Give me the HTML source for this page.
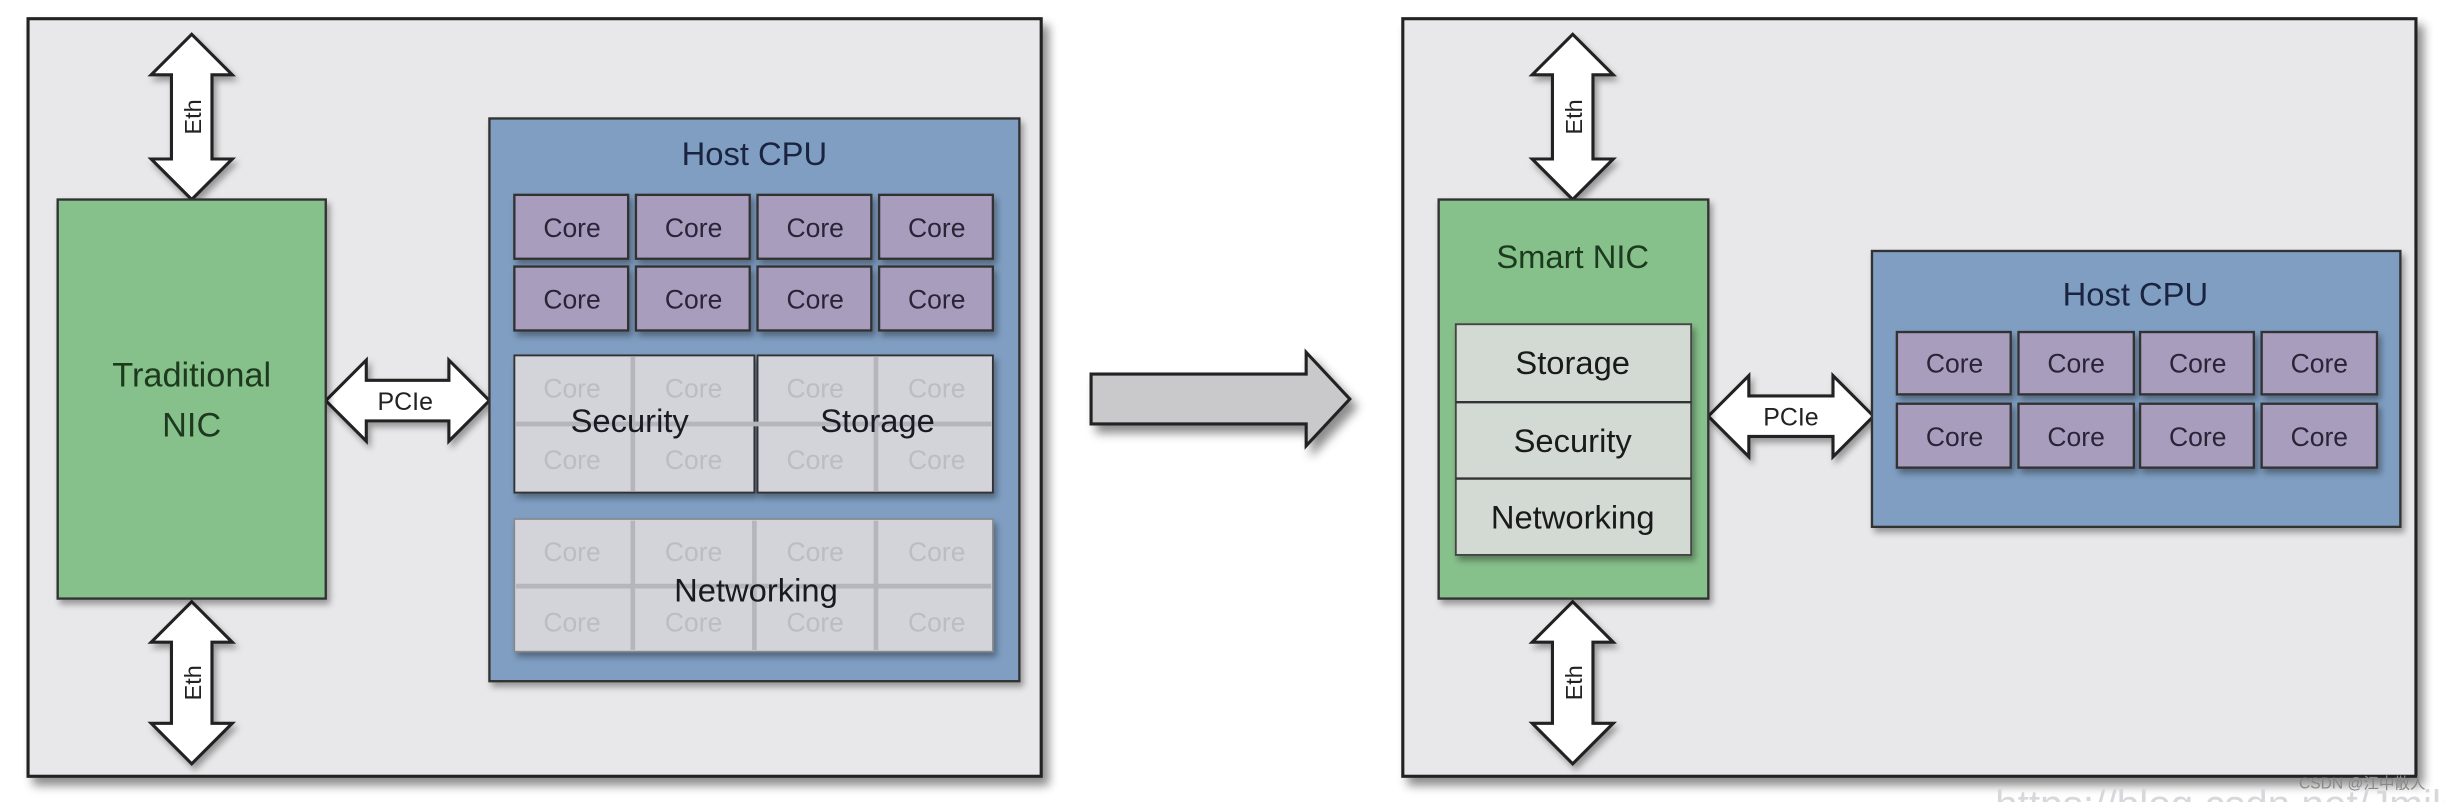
<!DOCTYPE html>
<html><head><meta charset="utf-8"><style>
html,body{margin:0;padding:0;background:#fff;width:2444px;height:802px;overflow:hidden}
svg{display:block}
text{font-family:"Liberation Sans","Noto Sans CJK SC",sans-serif}
</style></head><body>
<svg width="2444" height="802" viewBox="0 0 1568 514.5" preserveAspectRatio="none" xmlns="http://www.w3.org/2000/svg">
<defs>
<filter id="sh" x="-10%" y="-10%" width="130%" height="130%"><feDropShadow dx="4" dy="5" stdDeviation="3" flood-color="#000" flood-opacity="0.45"/></filter>
<filter id="sh2" x="-10%" y="-10%" width="130%" height="130%"><feDropShadow dx="2" dy="3" stdDeviation="2" flood-color="#000" flood-opacity="0.35"/></filter>
</defs>
<rect width="1568" height="514.5" fill="#fff"/>
<!-- Left panel -->
<rect x="18" y="12" width="650" height="486" fill="#e8e8ea" stroke="#222" stroke-width="2" filter="url(#sh)"/>
<!-- Eth arrows left -->
<g fill="#fff" stroke="#222" stroke-width="2" filter="url(#sh2)">
<path d="M123 22 L149 48 L136 48 L136 102 L149 102 L123 128 L97 102 L110 102 L110 48 L97 48 Z"/>
<path d="M123 386 L149 412 L136 412 L136 464 L149 464 L123 490 L97 464 L110 464 L110 412 L97 412 Z"/>
<path d="M209 257 L235 231 L235 244 L288 244 L288 231 L314 257 L288 283 L288 270 L235 270 L235 283 Z"/>
</g>
<text x="129" y="75" font-size="15" fill="#222" text-anchor="middle" transform="rotate(-90 129 75)">Eth</text>
<text x="129" y="438" font-size="15" fill="#222" text-anchor="middle" transform="rotate(-90 129 438)">Eth</text>
<text x="260" y="263" font-size="16" fill="#222" text-anchor="middle">PCIe</text>
<!-- Traditional NIC -->
<rect x="37" y="128" width="172" height="256" fill="#86c08a" stroke="#333" stroke-width="1.5" filter="url(#sh2)"/>
<text x="123" y="248" font-size="22" fill="#1d3a1f" text-anchor="middle">Traditional</text>
<text x="123" y="280" font-size="22" fill="#1d3a1f" text-anchor="middle">NIC</text>
<!-- Host CPU left -->
<rect x="314" y="76" width="340" height="361" fill="#7f9ec2" stroke="#333" stroke-width="1.5" filter="url(#sh2)"/>
<text x="484" y="106" font-size="21" fill="#1a2440" text-anchor="middle">Host CPU</text>
<g fill="#a99dbd" stroke="#333" stroke-width="1.5" filter="url(#sh2)">
<rect x="330" y="125" width="73" height="41"/><rect x="408" y="125" width="73" height="41"/><rect x="486" y="125" width="73" height="41"/><rect x="564" y="125" width="73" height="41"/>
<rect x="330" y="171" width="73" height="41"/><rect x="408" y="171" width="73" height="41"/><rect x="486" y="171" width="73" height="41"/><rect x="564" y="171" width="73" height="41"/>
</g>
<g font-size="17" fill="#2a2438" text-anchor="middle">
<text x="367" y="152">Core</text><text x="445" y="152">Core</text><text x="523" y="152">Core</text><text x="601" y="152">Core</text>
<text x="367" y="198">Core</text><text x="445" y="198">Core</text><text x="523" y="198">Core</text><text x="601" y="198">Core</text>
</g>
<!-- Security/Storage -->
<g filter="url(#sh2)">
<rect x="330" y="228" width="154" height="88" fill="#d3d3da" stroke="#333" stroke-width="1.2"/>
<rect x="486" y="228" width="151" height="88" fill="#d3d3da" stroke="#333" stroke-width="1.2"/>
<rect x="330" y="333" width="307" height="85" fill="#d3d3da" stroke="#888" stroke-width="1"/>
</g>
<g stroke="#b5b5bc" stroke-width="3">
<line x1="406" y1="229" x2="406" y2="315"/><line x1="562" y1="229" x2="562" y2="315"/>
<line x1="331" y1="272" x2="636" y2="272"/>
<line x1="406" y1="334" x2="406" y2="417"/><line x1="484" y1="334" x2="484" y2="417"/><line x1="562" y1="334" x2="562" y2="417"/>
<line x1="331" y1="376" x2="636" y2="376"/>
</g>
<g font-size="17" fill="#bcbcc2" text-anchor="middle">
<text x="367" y="255">Core</text><text x="445" y="255">Core</text><text x="523" y="255">Core</text><text x="601" y="255">Core</text>
<text x="367" y="301">Core</text><text x="445" y="301">Core</text><text x="523" y="301">Core</text><text x="601" y="301">Core</text>
<text x="367" y="360">Core</text><text x="445" y="360">Core</text><text x="523" y="360">Core</text><text x="601" y="360">Core</text>
<text x="367" y="405">Core</text><text x="445" y="405">Core</text><text x="523" y="405">Core</text><text x="601" y="405">Core</text>
</g>
<g font-size="21" fill="#1a1a22" text-anchor="middle">
<text x="404" y="277">Security</text><text x="563" y="277">Storage</text><text x="485" y="386">Networking</text>
</g>
<!-- Big arrow -->
<path d="M700 240 L838 240 L838 226 L866 256 L838 286 L838 272 L700 272 Z" fill="#c9c9cb" stroke="#222" stroke-width="2" filter="url(#sh)"/>
<!-- Right panel -->
<rect x="900" y="12" width="650" height="486" fill="#e8e8ea" stroke="#222" stroke-width="2" filter="url(#sh)"/>
<g fill="#fff" stroke="#222" stroke-width="2" filter="url(#sh2)">
<path d="M1009 22 L1035 48 L1022 48 L1022 102 L1035 102 L1009 128 L983 102 L996 102 L996 48 L983 48 Z"/>
<path d="M1009 386 L1035 412 L1022 412 L1022 464 L1035 464 L1009 490 L983 464 L996 464 L996 412 L983 412 Z"/>
<path d="M1096 267 L1122 241 L1122 254 L1176 254 L1176 241 L1202 267 L1176 293 L1176 280 L1122 280 L1122 293 Z"/>
</g>
<text x="1015" y="75" font-size="15" fill="#222" text-anchor="middle" transform="rotate(-90 1015 75)">Eth</text>
<text x="1015" y="438" font-size="15" fill="#222" text-anchor="middle" transform="rotate(-90 1015 438)">Eth</text>
<text x="1149" y="273" font-size="16" fill="#222" text-anchor="middle">PCIe</text>
<rect x="923" y="128" width="173" height="256" fill="#86c08a" stroke="#333" stroke-width="1.5" filter="url(#sh2)"/>
<text x="1009" y="172" font-size="21" fill="#1d3a1f" text-anchor="middle">Smart NIC</text>
<g filter="url(#sh2)">
<rect x="934" y="208" width="151" height="148" fill="#d2dad3" stroke="#444" stroke-width="1.2"/>
</g>
<line x1="934" y1="258" x2="1085" y2="258" stroke="#333" stroke-width="1.5"/>
<line x1="934" y1="307" x2="1085" y2="307" stroke="#333" stroke-width="1.5"/>
<g font-size="21" fill="#1a1a1a" text-anchor="middle">
<text x="1009" y="240">Storage</text><text x="1009" y="290">Security</text><text x="1009" y="339">Networking</text>
</g>
<rect x="1201" y="161" width="339" height="177" fill="#7f9ec2" stroke="#333" stroke-width="1.5" filter="url(#sh2)"/>
<text x="1370" y="196" font-size="21" fill="#1a2440" text-anchor="middle">Host CPU</text>
<g fill="#a99dbd" stroke="#333" stroke-width="1.5" filter="url(#sh2)">
<rect x="1217" y="213" width="73" height="40"/><rect x="1295" y="213" width="74" height="40"/><rect x="1373" y="213" width="73" height="40"/><rect x="1451" y="213" width="74" height="40"/>
<rect x="1217" y="259" width="73" height="41"/><rect x="1295" y="259" width="74" height="41"/><rect x="1373" y="259" width="73" height="41"/><rect x="1451" y="259" width="74" height="41"/>
</g>
<g font-size="17" fill="#2a2438" text-anchor="middle">
<text x="1254" y="239">Core</text><text x="1332" y="239">Core</text><text x="1410" y="239">Core</text><text x="1488" y="239">Core</text>
<text x="1254" y="286">Core</text><text x="1332" y="286">Core</text><text x="1410" y="286">Core</text><text x="1488" y="286">Core</text>
</g>
<text x="1280" y="525" font-size="26" fill="#d8d8dc">https://blog.csdn.net/Jmik</text>
<text x="1475" y="506" font-size="10" fill="#888">CSDN @江中散人</text>
</svg>
</body></html>
